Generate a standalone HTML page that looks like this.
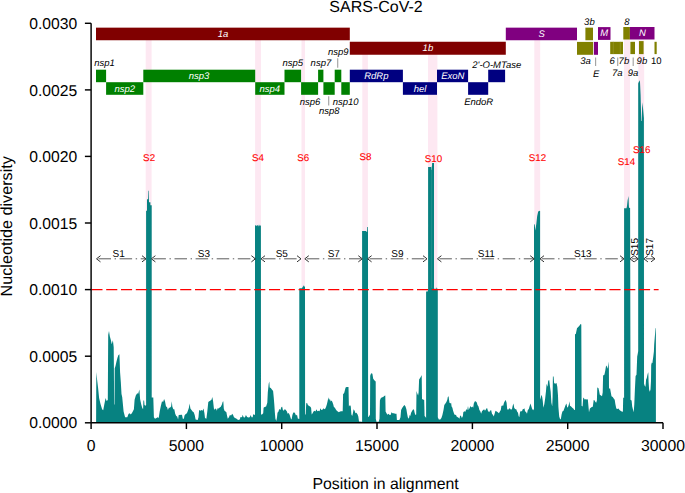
<!DOCTYPE html><html><head><meta charset="utf-8"><title>SARS-CoV-2</title>
<style>html,body{margin:0;padding:0;background:#fff;}svg{display:block;}text{font-family:"Liberation Sans",sans-serif;text-rendering:geometricPrecision;}</style></head><body>
<svg width="685" height="493" viewBox="0 0 685 493">
<rect x="0" y="0" width="685" height="493" fill="#ffffff"/>
<rect x="145.7" y="40" width="5.9" height="382.8" fill="#fde8f2"/>
<rect x="255.1" y="40" width="5.9" height="382.8" fill="#fde8f2"/>
<rect x="301.5" y="40" width="3.5" height="382.8" fill="#fde8f2"/>
<rect x="362.3" y="54" width="5.6" height="368.8" fill="#fde8f2"/>
<rect x="428.0" y="54" width="9.4" height="368.8" fill="#fde8f2"/>
<rect x="534.3" y="40" width="5.9" height="382.8" fill="#fde8f2"/>
<rect x="624.0" y="39.3" width="6.0" height="383.4" fill="#fde8f2"/>
<rect x="638.3" y="40.4" width="5.9" height="382.4" fill="#fde8f2"/>
<rect x="96.0" y="27.65" width="253.8" height="12.6" fill="#800000"/>
<rect x="349.8" y="41.75" width="156.0" height="13.0" fill="#800000"/>
<rect x="505.8" y="27.65" width="71.2" height="12.6" fill="#800080"/>
<rect x="585.4" y="27.65" width="7.6" height="12.6" fill="#808000"/>
<rect x="577.0" y="41.9" width="16.1" height="12.9" fill="#808000"/>
<rect x="593.9" y="41.9" width="4.1" height="12.9" fill="#800080"/>
<rect x="598.0" y="27.1" width="12.5" height="12.8" fill="#800080"/>
<rect x="610.2" y="41.8" width="12.8" height="12.3" fill="#808000"/>
<line x1="613.3" y1="41.8" x2="613.3" y2="54.1" stroke="#9a9a30" stroke-width="0.6"/>
<line x1="620.3" y1="41.8" x2="620.3" y2="54.1" stroke="#9a9a30" stroke-width="0.6"/>
<rect x="623.3" y="27.0" width="6.6" height="12.5" fill="#808000"/>
<rect x="629.9" y="27.0" width="24.6" height="12.5" fill="#800080"/>
<rect x="630.4" y="41.8" width="4.6" height="12.3" fill="#808000"/>
<rect x="639.0" y="41.1" width="4.6" height="13.0" fill="#808000"/>
<rect x="654.5" y="41.8" width="2.2" height="12.3" fill="#808000"/>
<rect x="96.0" y="69.7" width="10.1" height="12.5" fill="#008000"/>
<rect x="106.1" y="82.2" width="37.2" height="12.6" fill="#008000"/>
<rect x="143.3" y="69.7" width="111.9" height="12.5" fill="#008000"/>
<rect x="255.2" y="82.2" width="29.3" height="12.6" fill="#008000"/>
<rect x="284.5" y="69.7" width="16.6" height="12.5" fill="#008000"/>
<rect x="301.1" y="82.2" width="17.0" height="12.6" fill="#008000"/>
<rect x="318.1" y="69.7" width="5.3" height="12.5" fill="#008000"/>
<rect x="323.4" y="82.2" width="11.3" height="12.6" fill="#008000"/>
<rect x="334.7" y="69.7" width="6.6" height="12.5" fill="#008000"/>
<rect x="341.3" y="82.2" width="8.5" height="12.6" fill="#008000"/>
<rect x="349.8" y="69.7" width="53.1" height="12.5" fill="#000080"/>
<rect x="402.9" y="82.2" width="34.1" height="12.6" fill="#000080"/>
<rect x="437.0" y="69.7" width="31.1" height="12.5" fill="#000080"/>
<rect x="468.1" y="82.2" width="20.1" height="12.6" fill="#000080"/>
<rect x="488.2" y="69.7" width="16.9" height="12.5" fill="#000080"/>
<text x="223" y="37.0" font-size="9.5" fill="#fff" text-anchor="middle" font-style="italic">1a</text>
<text x="427.9" y="51.3" font-size="9.5" fill="#fff" text-anchor="middle" font-style="italic">1b</text>
<text x="541.7" y="37.0" font-size="9.5" fill="#fff" text-anchor="middle" font-style="italic">S</text>
<text x="604.3" y="36.4" font-size="9.5" fill="#fff" text-anchor="middle" font-style="italic">M</text>
<text x="642.5" y="36.4" font-size="9.5" fill="#fff" text-anchor="middle" font-style="italic">N</text>
<text x="589.4" y="25.2" font-size="9.5" fill="#000" text-anchor="middle" font-style="italic">3b</text>
<text x="626.8" y="25.2" font-size="9.5" fill="#000" text-anchor="middle" font-style="italic">8</text>
<text x="585.5" y="64.0" font-size="9.5" fill="#000" text-anchor="middle" font-style="italic">3a</text>
<text x="596.2" y="76.9" font-size="9.5" fill="#000" text-anchor="middle" font-style="italic">E</text>
<text x="612.2" y="64.0" font-size="9.5" fill="#000" text-anchor="middle" font-style="italic">6</text>
<text x="623.9" y="64.0" font-size="9.5" fill="#000" text-anchor="middle" font-style="italic">7b</text>
<text x="617.3" y="75.5" font-size="9.5" fill="#000" text-anchor="middle" font-style="italic">7a</text>
<text x="633.0" y="75.5" font-size="9.5" fill="#000" text-anchor="middle" font-style="italic">9a</text>
<text x="641.9" y="64.0" font-size="9.5" fill="#000" text-anchor="middle" font-style="italic">9b</text>
<text x="656.2" y="64.0" font-size="9.5" fill="#000" text-anchor="middle">10</text>
<text x="104.5" y="65.6" font-size="9.5" fill="#000" text-anchor="middle" font-style="italic">nsp1</text>
<text x="124.7" y="91.7" font-size="9.5" fill="#fff" text-anchor="middle" font-style="italic">nsp2</text>
<text x="199.0" y="79.2" font-size="9.5" fill="#fff" text-anchor="middle" font-style="italic">nsp3</text>
<text x="269.8" y="91.7" font-size="9.5" fill="#fff" text-anchor="middle" font-style="italic">nsp4</text>
<text x="292.8" y="66.0" font-size="9.5" fill="#000" text-anchor="middle" font-style="italic">nsp5</text>
<text x="320.9" y="66.0" font-size="9.5" fill="#000" text-anchor="middle" font-style="italic">nsp7</text>
<text x="338.2" y="55.2" font-size="9.5" fill="#000" text-anchor="middle" font-style="italic">nsp9</text>
<text x="310.1" y="105.0" font-size="9.5" fill="#000" text-anchor="middle" font-style="italic">nsp6</text>
<text x="329.2" y="114.0" font-size="9.5" fill="#000" text-anchor="middle" font-style="italic">nsp8</text>
<text x="345.6" y="105.0" font-size="9.5" fill="#000" text-anchor="middle" font-style="italic">nsp10</text>
<text x="376.3" y="79.2" font-size="9.5" fill="#fff" text-anchor="middle" font-style="italic">RdRp</text>
<text x="420.1" y="91.7" font-size="9.5" fill="#fff" text-anchor="middle" font-style="italic">hel</text>
<text x="452.8" y="79.2" font-size="9.5" fill="#fff" text-anchor="middle" font-style="italic">ExoN</text>
<text x="478.7" y="104.5" font-size="9.5" fill="#000" text-anchor="middle" font-style="italic">EndoR</text>
<text x="496.8" y="68.3" font-size="9.5" fill="#000" text-anchor="middle" font-style="italic">2'-O-MTase</text>
<line x1="337.7" y1="58.2" x2="337.7" y2="67.8" stroke="#a2a2a2" stroke-width="1.15"/>
<line x1="328.7" y1="96.2" x2="328.7" y2="105.5" stroke="#a2a2a2" stroke-width="1.15"/>
<line x1="595.6" y1="57.6" x2="595.6" y2="66.1" stroke="#a2a2a2" stroke-width="1.15"/>
<line x1="617.7" y1="57.6" x2="617.7" y2="66.1" stroke="#a2a2a2" stroke-width="1.15"/>
<line x1="633.2" y1="57.6" x2="633.2" y2="66.1" stroke="#a2a2a2" stroke-width="1.15"/>
<polygon points="96.1,422.75 96.1,422.5 96.3,372.1 97.1,379.8 98.1,387.9 99.1,398.0 100.5,404.1 102.1,409.2 103.2,410.2 104.2,405.1 105.6,398.0 106.6,401.1 107.8,400.0 108.2,335.1 109.0,331.1 109.8,336.2 110.9,340.2 111.7,344.3 112.9,340.2 113.7,347.3 113.9,367.0 114.1,404.1 114.5,405.1 114.7,368.6 115.5,366.1 116.5,361.6 117.4,357.9 118.3,355.2 119.4,354.2 119.7,361.6 120.1,372.5 120.8,381.8 121.5,394.0 122.2,396.9 123.6,411.5 125.1,417.3 127.3,417.3 128.5,414.1 129.5,413.2 130.9,414.4 132.4,412.2 133.9,409.3 134.6,399.8 135.8,395.4 137.2,393.2 138.2,393.7 139.4,389.6 140.1,399.1 141.2,404.2 142.2,407.8 143.1,409.3 143.4,400.5 144.1,400.5 144.5,404.9 145.5,405.7 146.1,405.0 146.1,210.8 147.0,210.8 147.0,199.2 148.1,199.2 148.3,190.7 148.8,190.7 149.0,202.2 150.4,202.2 150.4,205.3 151.7,205.3 151.7,397.6 153.3,397.6 153.9,417.3 155.0,418.8 156.5,418.1 157.7,417.3 158.7,418.1 159.7,411.5 160.9,405.7 162.0,401.3 163.1,402.0 164.1,399.1 165.0,401.3 166.0,406.4 167.0,407.1 167.9,410.0 168.9,407.8 169.9,407.8 171.1,406.4 171.8,401.3 172.3,406.4 173.3,409.3 174.3,409.3 175.2,413.7 176.2,415.9 177.2,416.6 178.1,419.5 178.7,415.1 182.0,414.7 182.8,418.8 183.9,418.8 184.5,415.6 185.7,414.1 186.9,413.2 187.9,410.8 188.9,407.8 189.6,403.5 190.4,408.6 191.5,410.0 192.6,411.5 193.7,412.2 194.7,415.1 195.6,419.5 197.7,420.0 198.5,417.3 199.1,410.0 200.3,410.8 201.5,410.0 202.5,410.8 203.5,408.6 204.4,413.0 205.0,418.1 206.4,418.8 207.3,411.5 208.3,402.0 209.3,401.3 210.5,400.5 211.5,399.8 212.3,396.9 213.1,401.3 213.9,408.6 214.9,410.0 215.0,408.6 216.2,408.9 216.8,410.8 217.6,408.3 218.6,408.6 219.7,407.4 220.8,406.8 222.0,404.2 222.6,402.0 223.3,401.3 223.8,408.6 224.5,410.8 225.5,411.5 226.4,412.2 227.1,415.9 227.8,418.8 228.9,417.3 229.9,415.1 231.1,415.6 232.2,413.7 233.1,415.1 234.0,417.3 235.1,418.1 236.6,418.8 238.1,420.0 239.8,419.5 240.5,417.0 242.0,417.3 242.7,414.7 243.6,417.3 244.9,417.6 245.9,415.1 247.1,417.0 248.3,417.6 249.7,417.3 250.8,415.1 251.5,417.3 252.7,417.3 253.2,414.1 254.1,415.1 255.0,414.4 255.0,413.0 255.0,225.8 256.0,225.0 256.6,226.2 257.4,224.8 258.2,226.4 259.0,224.6 259.8,226.0 260.9,225.2 261.0,414.4 262.0,414.4 263.2,413.2 263.6,407.8 264.6,407.1 266.1,406.4 267.3,402.7 267.8,392.5 268.7,383.8 269.3,381.6 269.7,387.4 270.8,388.1 271.9,389.6 273.1,391.1 273.7,396.9 274.3,404.2 274.9,413.0 275.4,418.8 276.3,421.0 277.0,417.3 277.5,412.7 278.5,411.5 279.2,408.9 280.4,410.0 281.4,407.1 282.2,406.8 282.9,410.0 283.9,410.8 284.8,408.9 285.8,410.0 286.8,411.2 287.7,413.7 288.7,413.0 289.7,415.1 290.9,418.8 291.6,419.5 292.4,415.1 293.2,412.7 294.1,412.2 295.0,413.2 296.0,415.6 297.0,414.7 297.9,418.8 298.9,418.8 299.3,419.0 299.3,288.3 302.0,288.3 302.6,287.0 303.3,286.2 303.9,285.3 304.4,286.5 305.0,287.0 305.1,414.4 305.7,414.4 306.2,403.5 307.0,402.7 307.9,404.9 309.1,405.9 310.1,406.4 311.1,407.8 311.7,414.4 312.6,413.2 313.5,411.5 314.5,410.8 315.5,411.5 316.4,409.3 317.4,411.2 318.4,410.8 319.6,411.2 320.3,408.3 321.4,410.0 322.5,409.7 323.2,408.3 324.3,409.3 325.4,408.6 326.2,406.4 326.9,404.2 327.6,401.3 328.4,397.2 329.1,400.5 329.8,398.6 330.7,401.6 331.6,400.5 332.4,402.0 333.2,404.2 333.9,407.1 334.9,407.8 335.7,409.3 336.8,410.8 337.8,411.5 338.9,412.2 340.0,411.5 341.2,411.2 342.7,411.2 343.1,394.0 344.1,393.2 344.7,391.1 345.6,387.4 346.6,387.0 348.5,387.0 348.9,406.4 350.0,404.9 350.8,406.4 351.4,414.4 352.2,415.9 352.9,413.2 353.6,409.3 354.6,410.8 355.5,413.2 356.4,412.7 357.6,414.4 358.3,416.6 359.0,421.4 361.9,421.7 362.1,422.0 362.1,230.9 366.3,230.9 366.5,232.0 367.1,232.0 367.3,227.0 368.0,227.0 368.1,416.6 368.4,417.3 369.2,415.9 370.0,414.4 370.2,375.7 371.1,373.3 372.4,373.7 373.2,378.8 374.8,380.8 375.7,381.5 375.8,418.8 376.5,421.7 378.7,421.7 379.5,418.8 379.9,400.5 380.6,398.4 381.6,397.6 383.1,396.9 384.6,395.7 385.3,395.4 385.6,411.5 386.5,413.2 387.5,414.7 388.5,413.7 389.7,415.1 390.8,414.7 391.4,412.2 392.6,413.2 394.1,413.2 395.0,413.7 396.5,413.7 396.9,420.0 399.4,420.0 400.5,417.3 401.1,410.0 402.3,407.8 403.5,405.9 404.6,404.9 405.5,406.4 406.4,409.3 407.0,413.0 407.8,417.3 408.9,418.8 409.6,415.1 410.3,415.9 411.1,412.7 412.2,410.8 413.2,409.3 414.0,409.7 414.7,413.0 415.4,415.1 416.2,414.4 416.5,391.1 417.2,393.2 418.1,395.4 418.6,392.5 419.1,379.4 420.1,377.9 421.0,376.5 421.7,375.0 422.0,399.1 423.0,399.5 424.2,400.1 424.6,415.9 425.7,417.3 426.1,418.0 426.1,291.5 427.6,291.5 428.1,290.0 428.1,166.9 431.2,166.9 431.5,170.0 431.9,170.0 432.1,163.0 434.0,163.0 434.0,288.7 436.2,288.7 436.5,286.9 436.9,288.7 437.8,288.7 437.8,417.3 438.8,419.5 440.3,419.5 441.4,418.1 442.4,415.1 443.5,410.0 444.3,404.9 445.4,403.5 446.4,402.0 447.3,399.8 447.8,396.9 448.6,396.2 449.0,399.8 449.5,402.7 450.2,403.5 451.1,402.7 451.6,406.4 452.4,407.8 453.1,410.8 454.1,413.7 454.9,415.1 456.0,414.7 456.6,416.6 457.8,417.3 458.9,418.1 459.5,418.8 460.1,415.6 461.0,415.9 461.9,418.1 462.9,415.9 463.3,412.2 464.3,411.2 465.4,411.8 466.2,409.3 467.3,410.0 468.0,405.9 468.7,410.0 469.7,407.8 470.6,405.9 471.5,407.4 472.4,406.4 473.2,407.8 473.8,403.5 474.7,401.6 475.7,401.3 476.8,402.4 477.5,404.9 478.5,406.4 479.4,410.0 480.4,411.5 481.1,413.7 482.0,411.2 482.9,410.3 484.1,409.3 485.0,410.8 486.2,408.9 487.0,407.8 487.9,410.8 489.1,412.2 490.1,410.8 491.1,410.0 492.0,413.7 493.0,415.1 493.8,416.6 494.6,413.7 495.5,410.8 496.7,411.5 497.8,412.2 498.9,413.2 499.9,411.5 500.8,410.0 501.4,405.9 502.2,405.4 503.2,405.7 504.0,402.7 504.9,401.0 505.7,400.1 506.6,402.7 507.2,408.9 508.1,410.0 508.6,408.9 509.8,408.3 511.0,409.7 512.0,408.9 512.7,405.7 513.5,403.5 514.2,407.8 515.2,409.3 516.1,408.9 517.1,411.5 518.0,412.7 518.6,415.9 519.3,417.3 520.0,412.2 520.9,410.8 521.9,411.5 522.7,409.3 523.7,408.9 524.4,408.3 525.1,411.2 526.2,412.2 527.0,413.7 527.8,410.0 528.8,408.9 529.5,406.4 530.5,403.5 531.4,406.4 532.0,408.6 532.9,410.0 533.8,409.3 534.0,411.0 534.0,224.2 534.7,224.5 535.3,230.5 536.3,224.0 537.2,216.0 538.2,211.5 539.5,210.8 540.1,211.0 540.1,399.8 540.8,397.6 541.4,394.7 542.2,396.9 542.8,401.3 543.4,407.8 544.3,404.2 545.1,399.1 546.0,391.1 546.6,383.8 547.5,386.7 548.2,380.8 549.2,380.1 550.0,386.7 550.7,391.8 551.4,402.7 552.2,406.4 552.6,396.9 552.9,376.5 553.6,376.5 554.1,383.0 555.1,383.8 556.5,383.0 557.3,386.7 558.0,395.4 558.4,407.1 559.2,416.6 560.2,419.5 560.9,418.8 561.6,414.4 562.4,411.5 563.5,410.8 564.6,407.8 565.6,404.9 566.5,403.5 567.2,407.8 568.2,406.4 568.9,404.2 569.4,401.3 570.0,405.7 571.1,406.4 572.3,407.8 573.3,408.6 574.3,410.0 574.9,410.0 575.0,409.0 575.0,334.3 575.8,334.0 577.0,328.2 579.4,325.8 580.6,324.0 581.3,324.5 581.6,405.7 582.6,406.4 583.2,397.6 584.1,398.4 584.9,399.8 585.9,399.1 587.0,399.8 587.8,399.1 588.4,405.7 589.0,412.2 589.9,408.6 590.8,407.8 591.8,407.1 592.8,406.8 593.7,400.1 594.7,400.5 595.4,402.0 596.2,402.7 596.9,400.5 597.3,387.4 598.4,388.1 599.1,391.1 599.8,394.7 601.0,395.4 602.0,396.2 602.7,392.5 603.1,375.4 604.4,374.7 605.2,371.1 606.1,365.6 606.8,366.2 607.4,368.7 608.0,366.2 608.5,361.4 608.9,368.7 609.0,388.9 610.0,388.1 610.8,392.5 611.5,396.2 612.7,396.9 613.7,398.4 614.7,399.8 615.4,404.2 616.3,408.6 617.3,408.9 618.5,408.6 619.5,410.0 620.5,410.8 621.7,411.5 622.9,411.8 623.2,397.6 624.1,398.0 624.1,208.3 626.5,208.3 627.0,205.9 627.6,200.4 628.5,195.9 628.9,206.5 629.3,208.0 630.1,208.0 630.5,399.8 631.6,400.5 632.2,406.4 633.1,410.0 633.7,412.2 634.3,404.2 634.9,389.6 635.4,379.4 635.6,376.0 636.5,374.7 637.2,356.5 637.7,354.1 638.2,351.0 638.2,350.0 638.2,83.5 639.4,80.3 640.0,82.0 640.6,95.0 641.0,110.0 641.3,121.0 641.8,121.0 642.2,102.2 643.0,108.0 643.9,118.0 644.0,383.8 644.8,385.9 645.5,386.7 646.1,379.4 646.8,377.9 647.4,375.0 647.8,373.5 648.3,372.3 648.6,382.0 649.1,389.6 649.8,391.8 650.5,389.6 651.0,381.0 651.2,365.0 651.8,362.6 652.4,363.2 652.8,360.1 653.3,356.5 653.9,351.6 654.2,344.3 654.7,338.2 655.1,333.4 655.5,328.5 655.8,327.9 655.9,328.0 655.9,422.5 655.9,422.75" fill="#078281"/>
<line x1="431.65" y1="166.5" x2="431.65" y2="288" stroke="#3c9b99" stroke-width="0.5"/>
<text x="149.1" y="160.6" font-size="9.8" fill="#ff0000" text-anchor="middle" stroke="#ff0000" stroke-width="0.1">S2</text>
<text x="258.0" y="160.6" font-size="9.8" fill="#ff0000" text-anchor="middle" stroke="#ff0000" stroke-width="0.1">S4</text>
<text x="303.2" y="160.6" font-size="9.8" fill="#ff0000" text-anchor="middle" stroke="#ff0000" stroke-width="0.1">S6</text>
<text x="365.5" y="160.29999999999998" font-size="9.8" fill="#ff0000" text-anchor="middle" stroke="#ff0000" stroke-width="0.1">S8</text>
<text x="433.5" y="161.6" font-size="9.8" fill="#ff0000" text-anchor="middle" stroke="#ff0000" stroke-width="0.1">S10</text>
<text x="537.5" y="160.6" font-size="9.8" fill="#ff0000" text-anchor="middle" stroke="#ff0000" stroke-width="0.1">S12</text>
<text x="626.5" y="164.7" font-size="9.8" fill="#ff0000" text-anchor="middle" stroke="#ff0000" stroke-width="0.1">S14</text>
<text x="641.8" y="153.29999999999998" font-size="9.8" fill="#ff0000" text-anchor="middle" stroke="#ff0000" stroke-width="0.1">S16</text>
<line x1="96.5" y1="258.8" x2="146.0" y2="258.8" stroke="#4a4a4a" stroke-width="0.9" stroke-dasharray="12.5 3.6 1.4 3.6" stroke-dashoffset="-2"/>
<polyline points="100.5,255.70000000000002 96.5,258.8 100.5,261.90000000000003" fill="none" stroke="#333" stroke-width="1"/>
<polyline points="142.0,255.70000000000002 146.0,258.8 142.0,261.90000000000003" fill="none" stroke="#333" stroke-width="1"/>
<text x="118.6" y="257.0" font-size="10" fill="#000" text-anchor="middle">S1</text>
<line x1="151.4" y1="258.8" x2="255.4" y2="258.8" stroke="#4a4a4a" stroke-width="0.9" stroke-dasharray="12.5 3.6 1.4 3.6" stroke-dashoffset="-2"/>
<polyline points="155.4,255.70000000000002 151.4,258.8 155.4,261.90000000000003" fill="none" stroke="#333" stroke-width="1"/>
<polyline points="251.4,255.70000000000002 255.4,258.8 251.4,261.90000000000003" fill="none" stroke="#333" stroke-width="1"/>
<text x="203.9" y="257.0" font-size="10" fill="#000" text-anchor="middle">S3</text>
<line x1="261.0" y1="258.8" x2="301.0" y2="258.8" stroke="#4a4a4a" stroke-width="0.9" stroke-dasharray="12.5 3.6 1.4 3.6" stroke-dashoffset="-2"/>
<polyline points="265.0,255.70000000000002 261.0,258.8 265.0,261.90000000000003" fill="none" stroke="#333" stroke-width="1"/>
<polyline points="297.0,255.70000000000002 301.0,258.8 297.0,261.90000000000003" fill="none" stroke="#333" stroke-width="1"/>
<text x="281.8" y="257.0" font-size="10" fill="#000" text-anchor="middle">S5</text>
<line x1="304.8" y1="258.8" x2="362.3" y2="258.8" stroke="#4a4a4a" stroke-width="0.9" stroke-dasharray="12.5 3.6 1.4 3.6" stroke-dashoffset="-2"/>
<polyline points="308.8,255.70000000000002 304.8,258.8 308.8,261.90000000000003" fill="none" stroke="#333" stroke-width="1"/>
<polyline points="358.3,255.70000000000002 362.3,258.8 358.3,261.90000000000003" fill="none" stroke="#333" stroke-width="1"/>
<text x="333.8" y="257.0" font-size="10" fill="#000" text-anchor="middle">S7</text>
<line x1="367.6" y1="258.8" x2="427.0" y2="258.8" stroke="#4a4a4a" stroke-width="0.9" stroke-dasharray="12.5 3.6 1.4 3.6" stroke-dashoffset="-2"/>
<polyline points="371.6,255.70000000000002 367.6,258.8 371.6,261.90000000000003" fill="none" stroke="#333" stroke-width="1"/>
<polyline points="423.0,255.70000000000002 427.0,258.8 423.0,261.90000000000003" fill="none" stroke="#333" stroke-width="1"/>
<text x="397.4" y="257.0" font-size="10" fill="#000" text-anchor="middle">S9</text>
<line x1="437.4" y1="258.8" x2="534.2" y2="258.8" stroke="#4a4a4a" stroke-width="0.9" stroke-dasharray="12.5 3.6 1.4 3.6" stroke-dashoffset="-2"/>
<polyline points="441.4,255.70000000000002 437.4,258.8 441.4,261.90000000000003" fill="none" stroke="#333" stroke-width="1"/>
<polyline points="530.2,255.70000000000002 534.2,258.8 530.2,261.90000000000003" fill="none" stroke="#333" stroke-width="1"/>
<text x="486.4" y="257.0" font-size="10" fill="#000" text-anchor="middle">S11</text>
<line x1="540.0" y1="258.8" x2="624.0" y2="258.8" stroke="#4a4a4a" stroke-width="0.9" stroke-dasharray="12.5 3.6 1.4 3.6" stroke-dashoffset="-2"/>
<polyline points="544.0,255.70000000000002 540.0,258.8 544.0,261.90000000000003" fill="none" stroke="#333" stroke-width="1"/>
<polyline points="620.0,255.70000000000002 624.0,258.8 620.0,261.90000000000003" fill="none" stroke="#333" stroke-width="1"/>
<text x="582.8" y="257.0" font-size="10" fill="#000" text-anchor="middle">S13</text>
<line x1="630.0" y1="258.8" x2="638.2" y2="258.8" stroke="#4a4a4a" stroke-width="0.9" stroke-dasharray="12.5 3.6 1.4 3.6" stroke-dashoffset="-2"/>
<polyline points="634.0,255.70000000000002 630.0,258.8 634.0,261.90000000000003" fill="none" stroke="#333" stroke-width="1"/>
<polyline points="634.2,255.70000000000002 638.2,258.8 634.2,261.90000000000003" fill="none" stroke="#333" stroke-width="1"/>
<text transform="translate(637.7,255.8) rotate(-90)" font-size="10" fill="#000">S15</text>
<line x1="643.9" y1="258.8" x2="655.0" y2="258.8" stroke="#4a4a4a" stroke-width="0.9" stroke-dasharray="12.5 3.6 1.4 3.6" stroke-dashoffset="-2"/>
<polyline points="647.9,255.70000000000002 643.9,258.8 647.9,261.90000000000003" fill="none" stroke="#333" stroke-width="1"/>
<polyline points="651.0,255.70000000000002 655.0,258.8 651.0,261.90000000000003" fill="none" stroke="#333" stroke-width="1"/>
<text transform="translate(653.0500000000001,255.8) rotate(-90)" font-size="10" fill="#000">S17</text>
<line x1="91.39999999999999" y1="289.6" x2="658.6" y2="289.6" stroke="#ff0000" stroke-width="1.4" stroke-dasharray="11.1 3.7"/>
<line x1="91.1" y1="23.3" x2="91.1" y2="422.75" stroke="#000" stroke-width="1.45"/>
<line x1="91.1" y1="422.75" x2="663.0" y2="422.75" stroke="#000" stroke-width="1.45"/>
<line x1="84.89999999999999" y1="422.8" x2="91.1" y2="422.8" stroke="#000" stroke-width="1.45"/>
<text x="77.2" y="428.4" font-size="15.7" text-anchor="end" fill="#000">0.0000</text>
<line x1="84.89999999999999" y1="356.2" x2="91.1" y2="356.2" stroke="#000" stroke-width="1.45"/>
<text x="77.2" y="361.8" font-size="15.7" text-anchor="end" fill="#000">0.0005</text>
<line x1="84.89999999999999" y1="289.6" x2="91.1" y2="289.6" stroke="#000" stroke-width="1.45"/>
<text x="77.2" y="295.2" font-size="15.7" text-anchor="end" fill="#000">0.0010</text>
<line x1="84.89999999999999" y1="223.0" x2="91.1" y2="223.0" stroke="#000" stroke-width="1.45"/>
<text x="77.2" y="228.6" font-size="15.7" text-anchor="end" fill="#000">0.0015</text>
<line x1="84.89999999999999" y1="156.4" x2="91.1" y2="156.4" stroke="#000" stroke-width="1.45"/>
<text x="77.2" y="162.0" font-size="15.7" text-anchor="end" fill="#000">0.0020</text>
<line x1="84.89999999999999" y1="89.9" x2="91.1" y2="89.9" stroke="#000" stroke-width="1.45"/>
<text x="77.2" y="95.5" font-size="15.7" text-anchor="end" fill="#000">0.0025</text>
<line x1="84.89999999999999" y1="23.3" x2="91.1" y2="23.3" stroke="#000" stroke-width="1.45"/>
<text x="77.2" y="28.9" font-size="15.7" text-anchor="end" fill="#000">0.0030</text>
<line x1="91.1" y1="422.75" x2="91.1" y2="429.05" stroke="#000" stroke-width="1.45"/>
<text x="91.1" y="450.8" font-size="15.8" text-anchor="middle" fill="#000">0</text>
<line x1="186.4" y1="422.75" x2="186.4" y2="429.05" stroke="#000" stroke-width="1.45"/>
<text x="186.4" y="450.8" font-size="15.8" text-anchor="middle" fill="#000">5000</text>
<line x1="281.7" y1="422.75" x2="281.7" y2="429.05" stroke="#000" stroke-width="1.45"/>
<text x="281.7" y="450.8" font-size="15.8" text-anchor="middle" fill="#000">10000</text>
<line x1="377.0" y1="422.75" x2="377.0" y2="429.05" stroke="#000" stroke-width="1.45"/>
<text x="377.0" y="450.8" font-size="15.8" text-anchor="middle" fill="#000">15000</text>
<line x1="472.4" y1="422.75" x2="472.4" y2="429.05" stroke="#000" stroke-width="1.45"/>
<text x="472.4" y="450.8" font-size="15.8" text-anchor="middle" fill="#000">20000</text>
<line x1="567.7" y1="422.75" x2="567.7" y2="429.05" stroke="#000" stroke-width="1.45"/>
<text x="567.7" y="450.8" font-size="15.8" text-anchor="middle" fill="#000">25000</text>
<line x1="663.0" y1="422.75" x2="663.0" y2="429.05" stroke="#000" stroke-width="1.45"/>
<text x="663.0" y="450.8" font-size="15.8" text-anchor="middle" fill="#000">30000</text>
<text x="385.6" y="489.4" font-size="15.85" text-anchor="middle" fill="#000">Position in alignment</text>
<text transform="translate(12.2,226.3) rotate(-90)" font-size="16.2" text-anchor="middle" fill="#000">Nucleotide diversity</text>
<text x="376" y="11.9" font-size="16" text-anchor="middle" fill="#000">SARS-CoV-2</text>
</svg></body></html>
